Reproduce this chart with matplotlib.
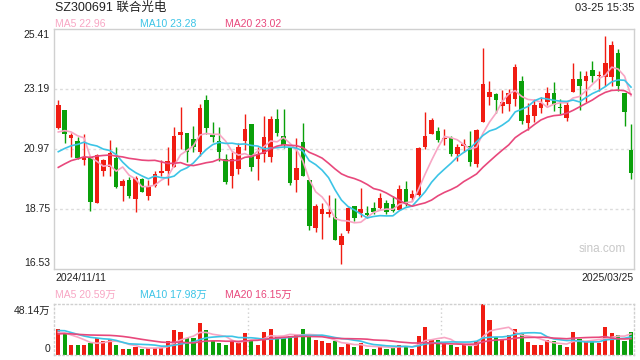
import matplotlib
matplotlib.use('Agg')
import matplotlib.pyplot as plt
import numpy as np

plt.rcParams['font.family'] = ['Liberation Sans', 'Noto Sans CJK SC', 'DejaVu Sans']

title = 'SZ300691 联合光电'
timestamp = '03-25 15:35'
start_label, end_label = '2024/11/11', '2025/03/25'
price_ticks = [16.53, 18.75, 20.97, 23.19, 25.41]
vol_top = 48.14
vol_tick_labels = ['48.14万', '0']
price_ma_text = ['MA5 22.96', 'MA10 23.28', 'MA20 23.02']
vol_ma_text = ['MA5 20.59万', 'MA10 17.98万', 'MA20 16.15万']
ma_periods = [5, 10, 20]

# closes / volumes before the first visible day (needed for the moving averages)
prior_close = [18.9, 19.1, 19.3, 19.2, 19.43, 19.8, 20.1, 20.5, 20.4, 20.37,
               20.3, 20.5, 20.1, 19.9, 19.9, 21.26, 21.74, 21.32, 21.08]
prior_vol = [14, 15, 18, 16, 17, 19, 15, 17, 18, 18,
             22, 27, 26, 25, 23.5, 23, 20, 19, 21.1]

opens = [21.73, 22.43, 21.39, 21.27, 20.58, 20.67, 18.99, 20.17, 20.29, 20.64,
         19.61, 19.82, 19.12, 19.86, 19.24, 19.61, 20.08, 20.17, 20.32, 21.50,
         21.56, 21.34, 20.87, 22.78, 21.49, 21.25, 20.60, 19.98, 20.23, 21.28,
         21.89, 20.60, 20.79, 20.66, 22.08, 21.44, 21.01, 19.84, 21.22, 19.82,
         18.04, 18.58, 18.55, 18.44, 17.43, 17.95, 18.85, 18.60, 18.60, 18.79,
         18.80, 18.97, 18.94, 18.73, 19.49, 19.16, 19.28, 21.03, 21.53, 21.62,
         21.34, 21.36, 20.78, 21.09, 21.09, 20.42, 21.98, 22.91, 23.00, 22.57,
         22.64, 22.82, 23.50, 21.93, 22.20, 22.49, 22.70, 23.04, 22.51, 22.10,
         23.09, 23.56, 23.50, 23.89, 23.66, 23.62, 23.62, 24.52, 23.04, 20.93]
closes = [22.60, 21.51, 21.49, 20.62, 20.69, 19.02, 20.75, 20.58, 20.82, 19.58,
          19.79, 19.24, 19.88, 19.39, 19.61, 20.05, 20.16, 20.51, 21.46, 21.60,
          20.85, 21.03, 22.49, 21.76, 21.43, 20.87, 19.76, 20.60, 21.06, 21.71,
          20.32, 20.79, 21.43, 22.08, 21.56, 21.12, 19.71, 20.26, 19.98, 18.13,
          18.85, 18.75, 18.65, 17.62, 17.74, 18.78, 18.41, 18.75, 18.53, 18.65,
          19.16, 18.65, 18.69, 19.49, 18.94, 19.31, 21.01, 21.44, 22.04, 21.32,
          21.36, 20.78, 21.06, 21.16, 20.50, 21.69, 23.37, 23.09, 22.80, 22.72,
          23.04, 24.00, 22.02, 22.23, 22.60, 22.67, 23.04, 22.60, 22.49, 22.60,
          23.56, 23.31, 23.66, 23.68, 23.68, 24.15, 24.82, 23.31, 22.35, 20.08]
highs = [22.80, 22.43, 21.56, 21.40, 21.53, 20.67, 20.79, 20.60, 21.32, 21.03,
         19.86, 19.92, 19.98, 19.90, 19.82, 20.17, 20.58, 21.03, 21.77, 22.51,
         21.56, 21.81, 22.64, 22.97, 21.96, 21.77, 20.79, 20.85, 21.19, 22.27,
         21.89, 21.03, 22.20, 22.18, 22.45, 22.45, 21.01, 21.36, 21.92, 19.84,
         18.94, 18.97, 19.27, 19.15, 17.85, 18.81, 18.87, 19.52, 18.85, 19.00,
         19.34, 19.09, 19.22, 19.65, 19.77, 19.45, 21.06, 22.33, 22.12, 21.77,
         21.71, 21.46, 21.16, 21.34, 21.62, 21.71, 24.69, 23.50, 23.04, 23.17,
         23.19, 24.12, 23.66, 22.66, 22.82, 22.88, 23.28, 23.46, 22.82, 22.76,
         24.14, 23.84, 23.87, 24.24, 23.87, 25.16, 24.98, 24.67, 23.04, 21.89]
lows = [21.71, 21.19, 20.66, 20.60, 20.39, 18.69, 18.99, 19.96, 19.96, 19.53,
        19.03, 19.14, 18.63, 19.37, 19.08, 19.55, 19.98, 19.65, 20.32, 20.97,
        20.48, 20.87, 20.72, 21.52, 21.22, 20.54, 19.67, 19.51, 20.05, 20.95,
        20.17, 19.84, 20.50, 20.50, 21.46, 20.99, 19.64, 19.39, 19.96, 17.98,
        17.89, 17.64, 18.44, 17.62, 16.71, 17.86, 18.32, 18.44, 18.41, 18.57,
        18.75, 18.55, 18.63, 18.73, 18.87, 19.03, 19.24, 20.97, 21.53, 21.22,
        21.12, 20.72, 20.51, 20.85, 20.35, 20.32, 21.98, 22.61, 22.30, 22.30,
        22.39, 22.57, 21.90, 21.69, 21.96, 22.29, 22.60, 22.39, 22.26, 22.02,
        23.09, 22.43, 22.72, 23.44, 23.13, 23.31, 23.31, 23.13, 21.81, 19.86]
volumes = [24.4, 20.2, 9.9, 9.0, 9.0, 11.2, 16.4, 12.8, 15.1, 9.9,
           6.1, 6.1, 7.4, 6.1, 6.7, 6.7, 6.7, 12.8, 23.4, 21.5,
           15.7, 15.7, 30.2, 23.4, 12.8, 11.2, 9.9, 12.8, 11.6, 20.5,
           14.4, 9.9, 21.5, 25.0, 17.6, 15.7, 17.6, 19.3, 25.0, 19.3,
           13.8, 12.8, 10.9, 12.8, 8.0, 10.3, 7.1, 10.9, 6.1, 6.1,
           8.7, 6.1, 8.0, 9.9, 8.0, 6.1, 17.6, 26.3, 14.1, 13.8,
           10.9, 9.0, 7.1, 9.0, 9.0, 13.2, 48.14, 33.1, 16.7, 14.4,
           18.6, 24.4, 19.6, 12.2, 9.9, 9.0, 13.8, 12.8, 9.0, 7.1,
           21.5, 14.8, 12.8, 12.8, 10.9, 26.3, 20.5, 18.6, 12.8, 21.5]

RED = '#f01c12'
GREEN = '#0aa00a'
MA_COLORS = ['#f8a6c4', '#3cc4e6', '#e8487c']

W, H = 640, 360
n = len(closes)
x = np.arange(n)
step = 6.435
x0 = -(58.3 - 54) / step
x1 = x0 + 580 / step


def moving_avg(prior, vals, p):
    allv = np.array(list(prior) + list(vals), dtype=float)
    out = np.convolve(allv, np.ones(p) / p, mode='valid')
    return out[-len(vals):]


fig = plt.figure(figsize=(W / 100, H / 100), dpi=100)
fig.patch.set_facecolor('white')

# ---- price panel ----
ax = fig.add_axes([54 / W, 1 - 269 / H, 580 / W, 240 / H])
ax.set_xlim(x0, x1)
ax.set_ylim(price_ticks[0], price_ticks[-1])
ax.set_xticks([])
ax.set_yticks([])
for s in ax.spines.values():
    s.set_color('#d0d0d0')
    s.set_linewidth(1)
for t in price_ticks[1:-1]:
    ax.axhline(t, color='#dcdcdc', lw=1, ls=(0, (2, 2)), zorder=0)

o = np.array(opens); c = np.array(closes)
h = np.array(highs); l = np.array(lows)
up = c >= o
cols = np.where(up, RED, GREEN)
ax.vlines(x, l, h, colors=cols, lw=1, zorder=2)
body_bot = np.minimum(o, c)
body_h = np.maximum(np.abs(c - o), 0.03)
ax.bar(x, body_h, bottom=body_bot, width=0.7, color=cols, zorder=3, linewidth=0)

for p, col in zip(ma_periods, MA_COLORS):
    ax.plot(x, moving_avg(prior_close, closes, p), color=col, lw=1.2, zorder=4)

ax.text(0.945, 0.085, 'sina.com', transform=ax.transAxes, ha='center', va='center',
        fontsize=8.5, color='#c8c8c8')

# ---- volume panel ----
av = fig.add_axes([54 / W, 1 - 355 / H, 580 / W, 51 / H])
av.set_xlim(x0, x1)
av.set_ylim(0, vol_top)
av.set_xticks([])
av.set_yticks([])
for s in av.spines.values():
    s.set_color('#d0d0d0')
    s.set_linewidth(1)
    s.set_linestyle((0, (1, 2)))
for k in (1, 2):
    av.axvline(k * n / 3 - 0.5, color='#d0d0d0', lw=1, ls=(0, (1, 2)), zorder=0)
av.bar(x, volumes, width=0.65, color=cols, zorder=2, linewidth=0)
for p, col in zip(ma_periods, MA_COLORS):
    av.plot(x, moving_avg(prior_vol, volumes, p), color=col, lw=1.2, zorder=3)


def ftext(px, py, s, **kw):
    fig.text(px / W, 1 - py / H, s, **kw)


ftext(55, 8, title, fontsize=9, ha='left', va='center', color='#222222')
ftext(634, 8, timestamp, fontsize=8, ha='right', va='center', color='#222222')
for xp, s, col in zip((55, 140, 225), price_ma_text, MA_COLORS):
    ftext(xp, 24, s, fontsize=7.5, ha='left', va='center', color=col)
for xp, s, col in zip((55, 140, 225), vol_ma_text, MA_COLORS):
    ftext(xp, 294.5, s, fontsize=7.5, ha='left', va='center', color=col)

tick_y = {price_ticks[0]: 263.5, price_ticks[-1]: 35}
for t in price_ticks:
    yp = tick_y.get(t, 29 + (price_ticks[-1] - t) / (price_ticks[-1] - price_ticks[0]) * 240)
    ftext(50, yp, f'{t:.2f}', fontsize=7.5, ha='right', va='center', color='#222222')

ftext(55, 278, start_label, fontsize=7.5, ha='left', va='center', color='#222222')
ftext(634, 278, end_label, fontsize=7.5, ha='right', va='center', color='#222222')
ftext(50, 311, vol_tick_labels[0], fontsize=7.5, ha='right', va='center', color='#222222')
ftext(50, 348.5, vol_tick_labels[1], fontsize=7.5, ha='right', va='center', color='#222222')

fig.savefig('out.png', dpi=100)
